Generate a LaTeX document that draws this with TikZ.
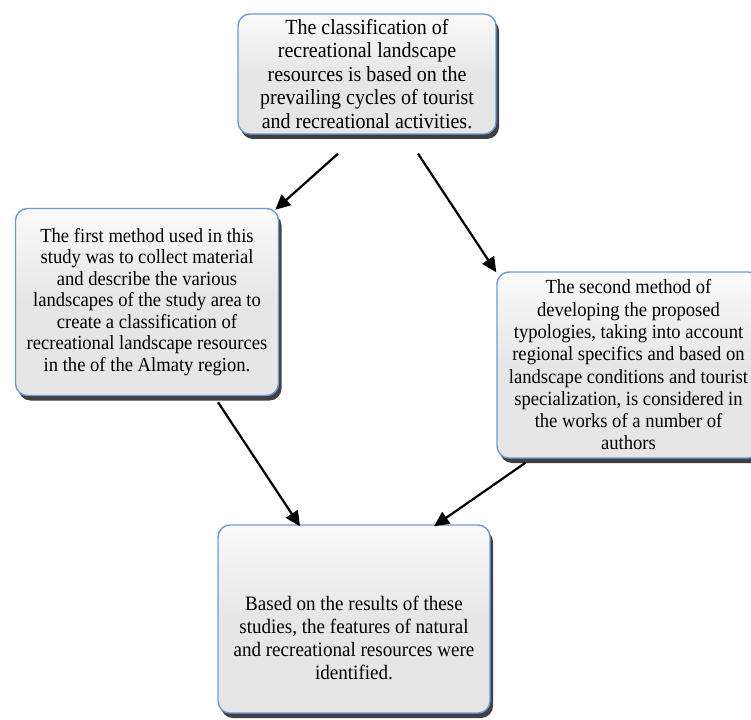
\documentclass[tikz,border=0pt]{standalone}
\usepackage{fontspec}
\setmainfont{Liberation Serif}[FakeStretch=0.93]
\usetikzlibrary{arrows.meta,shadows,calc}
\definecolor{boxborder}{RGB}{110,155,210}
\definecolor{boxfill}{RGB}{230,230,230}
\tikzset{
  box/.style={draw=boxborder, line width=1.4pt, rounded corners=12pt,
    top color=white!80!boxfill, bottom color=boxfill, middle color=boxfill,
    drop shadow={shadow xshift=3pt, shadow yshift=-5pt, fill=black, opacity=0.75},
    align=center, inner sep=0pt,
    font=\fontsize{20}{21.5}\selectfont},
  txt/.style={align=center, inner sep=0pt, font=\fontsize{20.5}{23}\selectfont},
  arr/.style={line width=2.2pt, -{Triangle[length=15pt,width=14pt]}}
}
\begin{document}
\begin{tikzpicture}[x=1pt,y=-1pt]
\clip (0,0) rectangle (751,719);
\fill[white] (0,0) rectangle (751,719);
\node[box, minimum width=258pt, minimum height=120pt, font=\fontsize{21.5}{23.5}\selectfont] (A) at (367,74)
  {The classification of\\recreational landscape\\resources is based on the\\prevailing cycles of tourist\\and recreational activities.};
\node[box, minimum width=263pt, minimum height=187pt] (B) at (147,302)
  {The first method used in this\\study was to collect material\\and describe the various\\landscapes of the study area to\\create a classification of\\recreational landscape resources\\in the of the Almaty region.};
\node[box, minimum width=263pt, minimum height=186pt, font=\fontsize{20}{22.3}\selectfont] (C) at (628.5,365)
  {The second method of\\developing the proposed\\typologies, taking into account\\regional specifics and based on\\landscape conditions and tourist\\specialization, is considered in\\the works of a number of\\authors};
\node[box, minimum width=272pt, minimum height=188pt] (D) at (354,619) {};
\node[txt] (Dt) at (354,638)
  {Based on the results of these\\studies, the features of natural\\and recreational resources were\\identified.};
\draw[arr] ($(A.south)+(-29,19)$) -- ($(B.north east)+(-4,2)$);
\draw[arr] ($(A.south)+(51,19)$) -- ($(C.north west)+(0,1)$);
\draw[arr] ($(B.south)+(71,6)$) -- ($(D.north)+(-54,2)$);
\draw[arr] ($(C.south)+(-103,4)$) -- ($(D.north)+(80,2)$);
\end{tikzpicture}
\end{document}
